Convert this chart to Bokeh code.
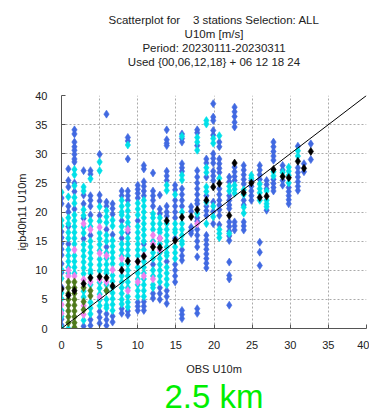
from bokeh.plotting import figure
from bokeh.models import Range1d, SingleIntervalTicker, Title
from bokeh.embed import file_html
from bokeh.resources import INLINE

# Observed wind speed bins (m/s) and the model values found in each bin, split by point density class
obs_cols = [0.0, 0.9, 1.7, 2.9, 3.8, 5.0, 5.9, 6.7, 7.9, 8.7, 10.0, 10.8, 12.0, 12.9, 13.8, 14.9, 15.8,
            17.0, 17.8, 19.0, 19.9, 20.7, 22.0, 22.7, 23.9, 24.9, 26.0, 26.9, 27.8, 29.0, 29.8, 31.0, 31.8, 32.7]

blue_y = [
    [22.4, 21.4, 16.6, 15.6, 14.6, 13.6, 12.6, 11.1, 9.6, 7.1, 1.6, 0.6],
    [27.4, 25.4, 24.3, 21.0, 20.0, 17.5, 14.5],
    [34.1, 33.4, 32.0, 31.2, 30.6, 29.9, 29.1, 28.6, 25.0, 23.5, 20.5],
    [27.1, 22.9, 21.4, 18.9, 15.4, 0.4],
    [27.1, 26.5, 22.8, 22.0, 21.0, 19.5, 16.0, 1.5, 0.5],
    [29.9, 22.9, 21.9, 19.4, 2.9, 1.9, 0.9],
    [36.8, 21.7, 21.0, 17.0, 14.0, 2.5, 1.5, 0.5],
    [21.4, 20.6, 19.6, 16.1, 2.1, 1.1],
    [23.6, 22.8, 18.5, 15.5, 3.4, 2.6],
    [32.8, 32.2, 29.1, 23.6, 22.8, 22.0, 16.5, 3.0, 2.3],
    [24.6, 23.9, 23.2, 22.4, 18.5, 4.5, 3.8, 3.1],
    [28.0, 27.4, 25.2, 24.4, 23.6, 22.8, 14.5, 4.6, 3.8, 3.1],
    [26.7, 23.6, 22.8, 22.0, 21.0, 11.0, 6.0, 5.2],
    [22.9, 20.5, 19.7, 15.5, 7.0, 6.0, 5.0],
    [34.1, 32.4, 31.8, 31.4, 27.0, 26.2, 25.4, 21.0, 20.0, 19.3, 11.5, 6.5, 5.5, 4.3],
    [24.6, 23.8, 22.0, 21.0, 20.0, 19.0, 15.5, 11.0, 10.0, 9.0, 8.0],
    [33.4, 32.6, 32.0, 28.3, 27.6, 27.0, 24.0, 23.0, 22.0, 21.0, 13.5, 12.5, 11.7, 3.1, 2.4, 1.7],
    [20.9, 20.1, 17.4, 16.8, 16.3],
    [34.1, 33.6, 31.4, 27.1, 26.0, 25.0, 24.0, 23.0, 22.0, 21.4, 19.0, 18.4, 17.0, 16.0, 15.0, 14.0, 12.3, 3.4, 2.6],
    [29.1, 28.4, 26.0, 22.8, 21.0, 20.2, 19.4, 16.0, 15.2, 14.4, 13.6, 12.8, 12.0, 11.2, 10.4],
    [40.9, 38.6, 36.3, 35.7, 34.0, 33.2, 30.0, 29.2, 28.4, 27.0, 26.2, 25.4, 21.7, 20.1, 18.0],
    [32.0, 31.2, 29.1, 28.3, 27.5, 26.8, 24.0, 23.0, 22.0, 21.2, 20.4, 19.4, 17.8],
    [26.0, 25.2, 22.8, 22.0, 21.2, 20.6, 18.3, 17.5, 16.7, 15.9, 15.1, 11.4, 9.1, 8.5, 4.0],
    [38.0, 37.2, 36.4, 35.4, 34.6, 27.7, 26.9, 26.1, 25.4, 18.3, 17.6, 16.9],
    [28.0, 27.2, 26.4, 25.6, 24.8, 22.0, 21.2, 18.3, 17.6, 16.9],
    [25.4, 24.4, 23.6, 22.8, 22.0],
    [28.0, 27.2, 26.4, 25.6, 14.8, 13.1, 10.8],
    [25.4, 24.7, 24.0, 20.3],
    [32.0, 31.2, 30.4, 29.6, 28.9, 25.6, 24.9, 24.2, 23.6],
    [28.0, 27.2, 25.4, 24.6],
    [24.2, 23.5, 22.8, 22.1, 21.4],
    [31.3, 27.6, 26.8, 26.0, 25.2, 24.4, 23.7],
    [28.3, 26.9],
    [31.7, 29.0],
]

cyan_y = [
    [23.4, 18.6, 17.6, 10.1, 8.6, 6.1, 5.1, 3.1, 2.1, 0.1],
    [22.6, 19.0, 18.0, 16.5, 15.5, 13.5, 12.5, 11.5, 10.5, 9.5, 0.0],
    [27.3, 26.4, 24.5, 22.5, 21.5, 19.5, 18.5, 17.5, 16.5, 15.5, 14.5, 12.5, 11.5, 10.5, 9.5],
    [24.3, 23.6, 20.4, 19.4, 17.4, 16.4, 14.4, 13.4, 12.4, 11.4, 10.4, 9.4, 6.4, 5.4, 1.4],
    [25.7, 18.5, 17.5, 15.0, 14.0, 13.0, 12.0, 11.0, 10.0, 9.5, 7.5, 4.5, 3.5, 2.5],
    [28.6, 27.1, 20.9, 18.4, 16.4, 15.4, 14.4, 13.4, 11.9, 10.9, 9.9, 7.9, 6.9, 5.9, 4.9, 3.9],
    [20.2, 19.2, 18.2, 16.0, 15.0, 13.0, 12.0, 11.0, 10.0, 9.5, 7.5, 6.5, 5.0, 4.0, 3.5],
    [18.6, 17.6, 15.1, 14.1, 13.1, 12.1, 11.1, 9.1, 8.1, 7.1, 6.1, 5.1, 4.1, 3.1],
    [22.0, 21.0, 20.0, 19.5, 17.5, 16.5, 14.5, 13.5, 12.5, 11.0, 9.0, 8.0, 7.0, 6.0, 5.0, 4.2],
    [31.5, 21.2, 20.2, 19.2, 18.2, 17.5, 15.5, 14.5, 13.5, 12.5, 11.0, 10.0, 9.0, 8.0, 7.0, 5.5, 4.5, 3.7],
    [21.5, 20.5, 19.5, 17.5, 16.5, 15.5, 14.5, 13.5, 12.5, 10.5, 9.5, 8.5, 7.5, 6.5, 5.5],
    [22.0, 21.0, 20.0, 19.0, 18.0, 17.0, 16.0, 15.0, 13.5, 11.5, 10.5, 9.5, 8.5, 7.5, 6.5, 5.5],
    [19.7, 19.0, 18.0, 17.0, 15.0, 13.0, 12.0, 10.0, 9.0, 7.5, 7.0],
    [19.0, 18.0, 17.0, 16.5, 14.5, 13.0, 12.0, 11.0, 10.0, 9.0, 8.0],
    [24.6, 23.7, 18.0, 17.0, 16.0, 15.0, 14.0, 13.0, 12.5, 10.5, 9.5, 8.5, 7.5],
    [23.0, 18.0, 17.0, 16.5, 14.0, 13.0, 12.0],
    [33.0, 26.3, 25.5, 20.0, 18.0, 17.0, 16.0, 15.0, 14.5],
    [],
    [32.8, 32.0, 30.6, 19.7],
    [35.7, 35.1, 27.6, 26.8, 24.3, 23.5, 21.7, 18.0],
    [32.6, 31.8, 21.0, 19.2],
    [33.1, 25.8, 17.0, 16.3, 15.6],
    [24.4, 23.6, 16.3],
    [24.6, 23.9, 23.2],
    [23.8, 23.0, 20.8, 19.8],
    [26.3, 25.8],
    [24.8, 24.0, 23.3, 22.0],
    [23.6, 22.0, 21.4, 20.9],
    [26.9, 26.2],
    [26.8],
    [27.7, 27.0, 26.3, 25.0],
    [30.5, 29.6],
    [],
    [],
]

violet_y = [
    [4.1, 2.6], [10.0, 9.0], [13.5, 9.0], [18.0, 8.4, 3.9, 2.4], [17.0, 8.0],
    [17.4, 12.9, 8.4, 5.4], [12.5, 8.0], [10.1], [12.0, 10.0], [17.0, 6.5],
    [11.5, 8.0], [12.5, 9.0], [16.0, 14.5, 8.5], [15.5, 13.5], [], [], [],
    [], [18.0], [], [], [], [], [], [], [], [], [], [], [], [], [], [], [],
]

green_y = [
    [], [8.0, 7.0, 6.0, 5.0, 4.0, 3.0, 2.0, 1.0], [8.0, 7.0, 6.0, 5.0, 4.0, 3.0, 2.0, 1.0, 0.2],
    [7.0, 4.6, 3.2], [6.5, 5.6], [], [6.5],
] + [[] for _ in range(27)]

# Mean model value per observed bin
mean_y = [6.8, 5.7, 6.5, 7.7, 8.7, 8.9, 8.7, 7.3, 10.0, 11.6, 11.5, 12.4, 14.0, 13.9, 18.5, 15.1, 19.1,
          19.2, 20.4, 22.0, 24.3, 24.9, 19.4, 28.4, 23.3, 25.0, 22.5, 22.7, 27.3, 26.1, 25.9, 28.7, 27.5, 30.4]

diag = [0, 40]

title_lines = [
    "Scatterplot for\u00a0\u00a0\u00a0\u00a03 stations Selection: ALL",
    "U10m [m/s]",
    "Period: 20230111-20230311",
    "Used {00,06,12,18} + 06 12 18 24",
]
resolution_text = "2.5 km"


def flatten(cols, groups):
    xs, ys = [], []
    for x, col in zip(cols, groups):
        xs.extend([x] * len(col))
        ys.extend(col)
    return xs, ys


FONT = "Liberation Sans"

p = figure(frame_width=305, frame_height=233, x_range=Range1d(0, 40), y_range=Range1d(0, 40),
           output_backend="svg", toolbar_location=None,
           min_border_left=61, min_border_right=3, min_border_top=95, min_border_bottom=87)
p.title.visible = False
p.outline_line_color = None
p.background_fill_color = "white"
p.border_fill_color = "white"

for ax in (p.xaxis[0], p.yaxis[0]):
    ax.ticker = SingleIntervalTicker(interval=5)
    ax.major_tick_in = 4
    ax.major_tick_out = 0
    ax.minor_tick_line_color = None
    ax.axis_line_color = "#555555"
    ax.major_tick_line_color = "#555555"
    ax.major_label_text_font = FONT
    ax.major_label_text_font_size = "11px"
    ax.major_label_text_color = "#222222"
    ax.axis_label_text_font = FONT
    ax.axis_label_text_font_size = "11px"
    ax.axis_label_text_font_style = "normal"
    ax.axis_label_text_color = "#222222"

p.xaxis.axis_label = "OBS U10m"
p.yaxis.axis_label = "igb40h11 U10m"
p.xaxis.major_label_standoff = 8
p.yaxis.major_label_standoff = 10
p.xaxis.axis_label_standoff = 11
p.yaxis.axis_label_standoff = 4

p.grid.ticker = SingleIntervalTicker(interval=5)
p.grid.grid_line_color = "#aaaaaa"
p.grid.grid_line_dash = "2 2"

styles = [(blue_y, "#4169e1"), (cyan_y, "#00e0e8"), (violet_y, "#ee82ee"), (green_y, "#4f7a1c")]
for groups, color in styles:
    xs, ys = flatten(obs_cols, groups)
    p.scatter(xs, ys, marker="diamond", size=8, fill_color=color, line_color=color, line_width=0.6)

p.line(diag, diag, line_color="black", line_width=1)
p.scatter(obs_cols, mean_y, marker="diamond", size=8, fill_color="black", line_color="black", line_width=0.6)

# Title lines stacked above the frame; the first added sits closest to the frame
p.add_layout(Title(text=" ", text_font_size="23px", standoff=0), "above")
for line in reversed(title_lines):
    p.add_layout(Title(text=line, align="center", text_font=FONT, text_font_size="11.5px",
                       text_font_style="normal", text_color="#222222", standoff=0,
                       text_line_height=1.42), "above")

# Large grid-resolution caption under the axis title
p.add_layout(Title(text=resolution_text, align="center", text_font=FONT, text_font_size="33px",
                   text_font_style="normal", text_color="#00ee00", standoff=-3,
                   text_line_height=0.7), "below")

open("out.html", "w").write(file_html(p, INLINE))
